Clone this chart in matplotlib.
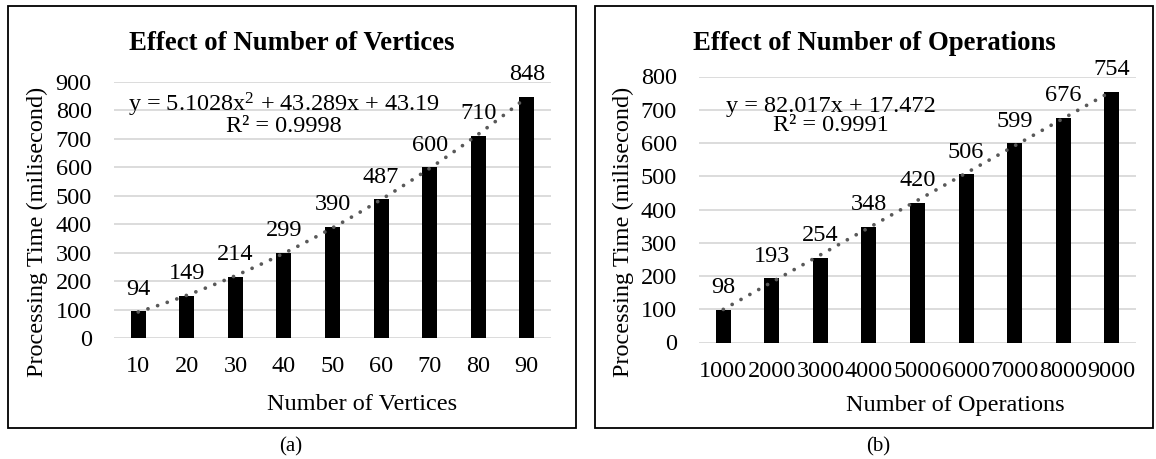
import matplotlib
matplotlib.use("Agg")
import matplotlib.pyplot as plt
from matplotlib.patches import Rectangle
import numpy as np

plt.rcParams["font.family"] = ["Liberation Serif", "DejaVu Serif"]
plt.rcParams["mathtext.fontset"] = "custom"
plt.rcParams["mathtext.rm"] = "Liberation Serif"
plt.rcParams["mathtext.it"] = "Liberation Serif:italic"

# ---- data -------------------------------------------------------------
vertices = ["10", "20", "30", "40", "50", "60", "70", "80", "90"]
vertices_time = [94, 149, 214, 299, 390, 487, 600, 710, 848]

operations = ["1000", "2000", "3000", "4000", "5000", "6000", "7000", "8000", "9000"]
operations_time = [98, 193, 254, 348, 420, 506, 599, 676, 754]

eq_a = ["y = 5.1028x$^{2}$ + 43.289x + 43.19", "R² = 0.9998"]
eq_b = ["y = 82.017x + 17.472", "R² = 0.9991"]

W, H = 1156, 459
FS = 17.5
fig = plt.figure(figsize=(W / 100, H / 100), dpi=100)


def fx(x):
    return x / W


def fy(y):
    return 1 - y / H


def panel(x0, x1, y0, y1, cats, vals, ymax, deg, title, eq, eq_x, eq_y,
          xlabel, xlabel_x, ylabel_x, box, caption, caption_x, title_x):
    ax = fig.add_axes([fx(x0), fy(y1), fx(x1) - fx(x0), fy(y0) - fy(y1)])
    pos = np.arange(len(cats))
    ax.bar(pos, vals, width=0.31, color="black", zorder=2)
    # polynomial trendline (x = 1..n, as a spreadsheet does it)
    xs = pos + 1
    coef = np.polyfit(xs, vals, deg)
    xx = np.linspace(1, len(cats), 200)
    ax.plot(xx - 1, np.polyval(coef, xx), color="#595959", lw=2.7,
            linestyle=(0, (0.01, 2.7)), dash_capstyle="round", zorder=3)
    for p, v in zip(pos, vals):
        ax.annotate(str(v), (p, v), xytext=(0, 12), textcoords="offset points",
                    ha="center", va="baseline", fontsize=FS)
    ax.set_xlim(-0.5, len(cats) - 0.5)
    ax.set_ylim(0, ymax)
    ax.set_yticks(np.arange(0, ymax + 1, 100))
    ax.set_xticks(pos)
    ax.set_xticklabels(cats)
    ax.tick_params(length=0, labelsize=FS, pad=13)
    ax.tick_params(axis="y", pad=16)
    ax.grid(axis="y", color="#d9d9d9", lw=1.3, zorder=0)
    ax.set_axisbelow(True)
    for s in ax.spines.values():
        s.set_visible(False)

    fig.text(fx(title_x), fy(43), title, fontsize=19.3, fontweight="bold",
             ha="center", va="center")
    # trendline equation and R², one centred two-line block
    fig.text(fx(eq_x), fy(eq_y), "\n".join(eq), fontsize=FS, ha="center",
             va="center", multialignment="center", linespacing=0.85)
    fig.text(fx(xlabel_x), fy(405), xlabel, fontsize=FS, ha="center", va="center")
    fig.text(fx(ylabel_x), fy(232), "Processing Time (milisecond)", fontsize=FS,
             rotation=90, ha="center", va="center")
    bx0, by0, bx1, by1 = box
    fig.add_artist(Rectangle((fx(bx0), fy(by1)), fx(bx1) - fx(bx0), fy(by0) - fy(by1),
                             transform=fig.transFigure, fill=False,
                             edgecolor="black", lw=1.3))
    fig.text(fx(caption_x), fy(447), caption, fontsize=15, ha="center", va="center")
    return ax


panel(114, 551, 82, 338, vertices, vertices_time, 900, 2,
      "Effect of Number of Vertices", eq_a, 284, 114,
      "Number of Vertices", 362, 37, (8, 6, 576, 428), "(a)", 291, 292)
panel(699, 1136, 76.5, 342.5, operations, operations_time, 800, 1,
      "Effect of Number of Operations", eq_b, 831, 116,
      "Number of Operations", 955, 623, (595, 6, 1153, 428), "(b)", 878, 874)

fig.savefig("out.png", dpi=100)
